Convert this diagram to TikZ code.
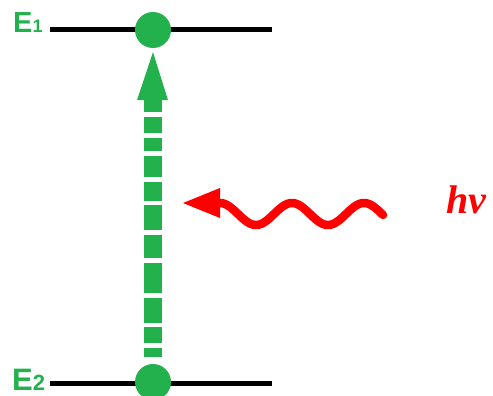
\documentclass[tikz,border=0pt]{standalone}
\usepackage{fontspec}
\setmainfont{Liberation Serif}
\newfontfamily\labsans{Liberation Sans}
\usetikzlibrary{calc}
\definecolor{pgreen}{HTML}{22B14C}
\definecolor{pred}{HTML}{FF0000}
\tikzset{
  level/.style={line width=5pt},
  dot/.style={circle,fill=pgreen,minimum size=36pt,inner sep=0pt},
  shaft/.style={pgreen,line width=18pt,
    dash pattern=on 12pt off 5pt on 16pt off 5pt on 13pt off 5pt on 21pt off 5pt on 19pt off 4pt on 25pt off 5pt on 23pt off 5pt on 30pt off 5pt on 25pt off 4pt on 16pt off 5pt on 9pt off 40pt},
  wave/.style={pred,line width=8.5pt,line cap=round},
  elab/.style={pgreen,anchor=base west,inner sep=0pt,font=\labsans\bfseries},
}
\begin{document}
\begin{tikzpicture}[x=1pt,y=-1pt]
\useasboundingbox (0,0) rectangle (493,396);
% levels
\coordinate (l1a) at (50,30);
\coordinate (l1b) at (272,30);
\coordinate (l2a) at (50,383);
\coordinate (l2b) at (272,383);
\draw[level] (l1a) -- (l1b);
\draw[level] (l2a) -- (l2b);
\node[dot] (t) at (153,30) {};
\node[dot] (b) at (153,382) {};
% labels
\node[elab] (e1) at (13,33) {{\fontsize{29}{29}\selectfont E}{\fontsize{18}{18}\selectfont 1}};
\node[elab] (e2) at (12,390) {{\fontsize{31}{31}\selectfont E}{\fontsize{22}{22}\selectfont 2}};
% excitation arrow
\fill[pgreen] ($(t.south)+(0,4)$) -- ($(t.south)+(-16,52)$) -- ($(t.south)+(15,52)$) -- cycle;
\draw[shaft] ($(t.south)+(0,52)$) -- ($(b.north)+(0,-7)$);
% photon
\coordinate (ptip) at (183,203);
\fill[pred] (ptip) -- (220,188) -- (220,218) -- cycle;
\draw[wave] plot[domain=218:383,samples=120,smooth] (\x,{214-11*cos(5*(\x-220))});
\node[pred,font=\bfseries\itshape,anchor=base west,inner sep=0pt] (hv) at (446,213) {\fontsize{40}{40}\selectfont hν};
\end{tikzpicture}
\end{document}
